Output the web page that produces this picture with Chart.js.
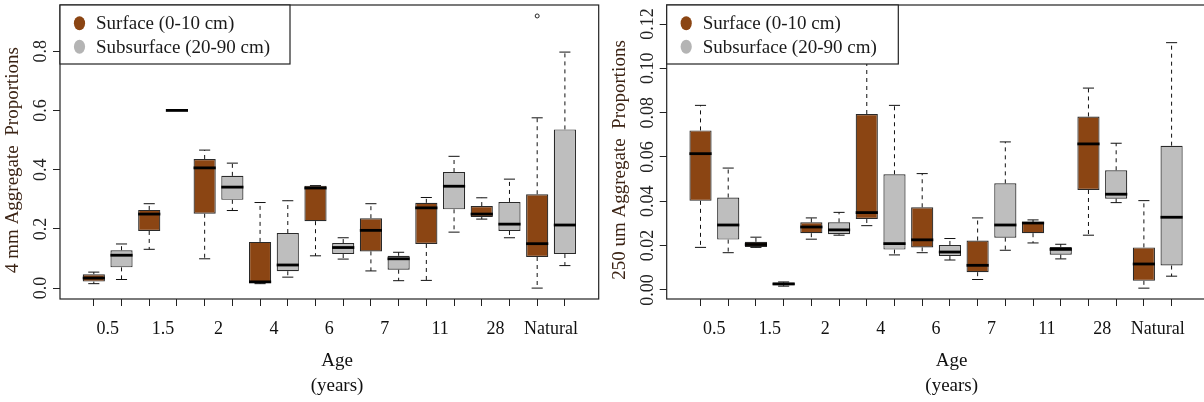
<!DOCTYPE html>
<html>
<head>
<meta charset="utf-8">
<script src="https://cdn.jsdelivr.net/npm/chart.js@4.4.0/dist/chart.umd.min.js"></script>
<style>
  html, body { margin: 0; padding: 0; background: #fff; overflow: hidden; width: 1204px; height: 402px; }
  .panel { position: absolute; top: 0; height: 402px; }
  #p1 { left: 0; width: 602px; }
  #p2 { left: 600px; width: 608px; }
</style>
</head>
<body>
<div class="panel" id="p1"><canvas id="c1" width="602" height="402"></canvas></div>
<div class="panel" id="p2"><canvas id="c2" width="608" height="402"></canvas></div>
<script>
// Age groups, each has a surface and a subsurface box
const ages = ['0.5', '1.5', '2', '4', '6', '7', '11', '28', 'Natural'];
const seriesNames = ['Surface (0-10 cm)', 'Subsurface (20-90 cm)'];

// five-number summaries per age: [min, q1, median, q3, max]
const mm4Surface = [
  [0.015, 0.022, 0.034, 0.047, 0.054],
  [0.131, 0.193, 0.250, 0.264, 0.285],
  [0.099, 0.251, 0.406, 0.436, 0.466],
  [0.015, 0.017, 0.021, 0.156, 0.289],
  [0.109, 0.226, 0.338, 0.346, 0.346],
  [0.058, 0.124, 0.195, 0.236, 0.285],
  [0.026, 0.149, 0.271, 0.288, 0.306],
  [0.233, 0.240, 0.250, 0.277, 0.305],
  [0.000, 0.105, 0.150, 0.317, 0.575]
];
const mm4Subsurface = [
  [0.029, 0.070, 0.111, 0.128, 0.149],
  [0.600, 0.600, 0.600, 0.600, 0.600],
  [0.262, 0.298, 0.341, 0.379, 0.422],
  [0.037, 0.057, 0.078, 0.186, 0.295],
  [0.098, 0.115, 0.137, 0.152, 0.170],
  [0.025, 0.062, 0.099, 0.109, 0.121],
  [0.189, 0.266, 0.344, 0.392, 0.445],
  [0.170, 0.193, 0.216, 0.291, 0.368],
  [0.076, 0.115, 0.213, 0.536, 0.797]
];
const mm4SurfaceOutliers = [[], [], [], [], [], [], [], [], [0.919]];
const mm4SubsurfaceOutliers = [[], [], [], [], [], [], [], [], []];

const um250Surface = [
  [0.0192, 0.0402, 0.0615, 0.0720, 0.0833],
  [0.0192, 0.0194, 0.0205, 0.0217, 0.0238],
  [0.0229, 0.0256, 0.0284, 0.0305, 0.0325],
  [0.0290, 0.0320, 0.0349, 0.0794, 0.1237],
  [0.0168, 0.0192, 0.0226, 0.0373, 0.0525],
  [0.0047, 0.0080, 0.0111, 0.0223, 0.0325],
  [0.0212, 0.0256, 0.0302, 0.0305, 0.0316],
  [0.0247, 0.0451, 0.0659, 0.0783, 0.0911],
  [0.0008, 0.0041, 0.0117, 0.0192, 0.0403]
];
const um250Subsurface = [
  [0.0168, 0.0227, 0.0293, 0.0417, 0.0550],
  [0.0017, 0.0021, 0.0027, 0.0033, 0.0036],
  [0.0247, 0.0251, 0.0271, 0.0305, 0.0350],
  [0.0158, 0.0182, 0.0209, 0.0522, 0.0833],
  [0.0135, 0.0153, 0.0171, 0.0203, 0.0232],
  [0.0179, 0.0236, 0.0293, 0.0481, 0.0668],
  [0.0140, 0.0159, 0.0183, 0.0194, 0.0206],
  [0.0394, 0.0412, 0.0432, 0.0540, 0.0662],
  [0.0062, 0.0110, 0.0328, 0.0651, 0.1116]
];
const um250SurfaceOutliers = [[], [], [], [], [], [], [], [], []];
const um250SubsurfaceOutliers = [[], [], [], [], [], [], [], [], []];

const mm4Ticks = [0, 0.2, 0.4, 0.6, 0.8];
const um250Ticks = [0, 0.02, 0.04, 0.06, 0.08, 0.10, 0.12];

const BROWN = '#8B4513';
const GREY = '#BEBEBE';
const SERIF = "'Liberation Serif', 'Times New Roman', serif";

// whiskers, caps, medians, outliers, frame, legend and text (R boxplot look)
const boxplotExtras = {
  id: 'boxplotExtras',
  afterDatasetsDraw(chart) {
    const ctx = chart.ctx;
    const x = chart.scales.x, y = chart.scales.y;
    const boxHalf = x.getPixelForValue(0.4) - x.getPixelForValue(0);
    const capHalf = boxHalf / 2;
    ctx.save();
    chart.data.datasets.forEach(ds => {
      ds.data.forEach(d => {
        const px = x.getPixelForValue(d.x);
        const [mn, q1, md, q3, mx] = d.stats;
        ctx.strokeStyle = '#111';
        ctx.lineWidth = 1;
        ctx.setLineDash([4, 4]);
        ctx.beginPath();
        ctx.moveTo(px, y.getPixelForValue(q3));
        ctx.lineTo(px, y.getPixelForValue(mx));
        ctx.moveTo(px, y.getPixelForValue(q1));
        ctx.lineTo(px, y.getPixelForValue(mn));
        ctx.stroke();
        ctx.setLineDash([]);
        ctx.beginPath();
        ctx.moveTo(px - capHalf, y.getPixelForValue(mx));
        ctx.lineTo(px + capHalf, y.getPixelForValue(mx));
        ctx.moveTo(px - capHalf, y.getPixelForValue(mn));
        ctx.lineTo(px + capHalf, y.getPixelForValue(mn));
        ctx.stroke();
        ctx.lineWidth = 2.8;
        ctx.strokeStyle = '#000';
        ctx.beginPath();
        ctx.moveTo(px - boxHalf, y.getPixelForValue(md));
        ctx.lineTo(px + boxHalf, y.getPixelForValue(md));
        ctx.stroke();
        ctx.lineWidth = 1;
        ctx.strokeStyle = '#222';
        d.out.forEach(v => {
          ctx.beginPath();
          ctx.arc(px, y.getPixelForValue(v), 2, 0, Math.PI * 2);
          ctx.stroke();
        });
      });
    });
    ctx.restore();
  },
  afterDraw(chart) {
    const ctx = chart.ctx;
    const a = chart.chartArea;
    const x = chart.scales.x, y = chart.scales.y;
    const o = chart.options.plugins.boxplotExtras;
    ctx.save();
    // frame
    ctx.strokeStyle = '#222';
    ctx.lineWidth = 1.2;
    ctx.strokeRect(a.left, a.top, a.right - a.left, a.bottom - a.top);
    // legend
    ctx.fillStyle = '#fff';
    ctx.fillRect(a.left, a.top, o.legendW, 59);
    ctx.strokeRect(a.left, a.top, o.legendW, 59);
    [BROWN, '#B4B4B4'].forEach((c, i) => {
      const cy = a.top + 18.3 + i * 23.4;
      ctx.fillStyle = c;
      ctx.beginPath();
      ctx.ellipse(a.left + 19.5, cy, 5.6, 7, 0, 0, Math.PI * 2);
      ctx.fill();
      ctx.fillStyle = '#1a1a1a';
      ctx.font = '19px ' + SERIF;
      ctx.textAlign = 'left';
      ctx.textBaseline = 'middle';
      ctx.fillText(seriesNames[i], a.left + 36, cy + 1);
    });
    // y tick labels, rotated like R
    ctx.fillStyle = '#222';
    ctx.font = '18px ' + SERIF;
    ctx.textAlign = 'center';
    ctx.textBaseline = 'middle';
    o.yTicks.forEach(v => {
      ctx.save();
      ctx.translate(a.left - 18.5, y.getPixelForValue(v));
      ctx.rotate(-Math.PI / 2);
      ctx.fillText(v.toFixed(o.digits), 0, 0);
      ctx.restore();
    });
    // y title
    ctx.save();
    ctx.fillStyle = '#3b2314';
    ctx.font = '19px ' + SERIF;
    ctx.translate(a.left - 47, 160);
    ctx.rotate(-Math.PI / 2);
    ctx.fillText(o.yTitle, 0, 0);
    ctx.restore();
    // x labels between each surface/subsurface pair
    ctx.fillStyle = '#111';
    ctx.font = '18px ' + SERIF;
    ages.forEach((lab, i) => {
      ctx.fillText(lab, x.getPixelForValue(2 * i + 1.5), 329);
    });
    ctx.font = '19px ' + SERIF;
    ctx.fillText('Age', o.titleX, 361);
    ctx.fillText('(years)', o.titleX, 386);
    ctx.restore();
  }
};

function makeChart(id, surf, sub, surfOut, subOut, yTicks, yMin, yMax, digits, yTitle, chartLeft, canvasW, legendW, titleX) {
  const boxes = (stats, outs, offset) => stats.map((s, i) => ({
    x: 2 * i + offset, y: [s[1], s[3]], stats: s, out: outs[i]
  }));
  const boxStyle = {
    borderColor: '#2a2a2a', borderWidth: 1.2, borderSkipped: false,
    barPercentage: 0.8, categoryPercentage: 1, grouped: false
  };
  return new Chart(document.getElementById(id), {
    type: 'bar',
    data: {
      datasets: [
        Object.assign({ label: seriesNames[0], data: boxes(surf, surfOut, 1), backgroundColor: BROWN }, boxStyle),
        Object.assign({ label: seriesNames[1], data: boxes(sub, subOut, 2), backgroundColor: GREY }, boxStyle)
      ]
    },
    options: {
      responsive: false,
      animation: false,
      devicePixelRatio: 1,
      layout: { padding: { left: 0, top: 5, right: canvasW - (chartLeft + 538.7), bottom: 0 } },
      plugins: {
        legend: { display: false },
        tooltip: { enabled: false },
        boxplotExtras: { yTicks: yTicks, digits: digits, yTitle: yTitle, legendW: legendW, titleX: titleX }
      },
      scales: {
        x: {
          type: 'linear', min: -0.22, max: 19.22, offset: false,
          afterBuildTicks: s => { s.ticks = Array.from({ length: 18 }, (_, i) => ({ value: i + 1 })); },
          afterFit: s => { s.height = 103; },
          ticks: { display: false },
          border: { display: false },
          grid: { offset: false, drawOnChartArea: false, drawTicks: true, tickLength: 7, color: '#222', lineWidth: 1 }
        },
        y: {
          min: yMin, max: yMax,
          afterBuildTicks: s => { s.ticks = yTicks.map(v => ({ value: v })); },
          afterFit: s => { s.width = chartLeft; },
          ticks: { display: false },
          border: { display: false },
          grid: { drawOnChartArea: false, drawTicks: true, tickLength: 7, color: '#222', lineWidth: 1 }
        }
      }
    },
    plugins: [boxplotExtras]
  });
}

makeChart('c1', mm4Surface, mm4Subsurface, mm4SurfaceOutliers, mm4SubsurfaceOutliers,
  mm4Ticks, -0.0368, 0.956, 1, '4 mm Aggregate  Proportions', 60, 602, 230, 337);
makeChart('c2', um250Surface, um250Subsurface, um250SurfaceOutliers, um250SubsurfaceOutliers,
  um250Ticks, -0.0041, 0.1286, 2, '250 um Aggregate  Proportions', 66.7, 608, 231.6, 351.7);
</script>
</body>
</html>
